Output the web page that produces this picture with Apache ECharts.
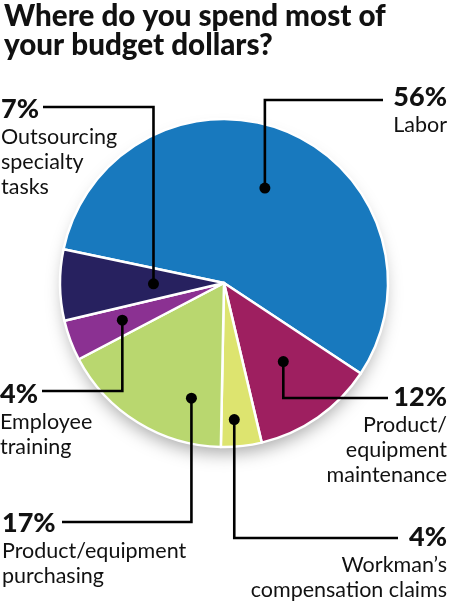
<!DOCTYPE html>
<html>
<head>
<meta charset="utf-8">
<script src="https://cdn.jsdelivr.net/npm/echarts@6/dist/echarts.min.js"></script>
<style>
html,body{margin:0;padding:0;background:#fff;}
#c{width:450px;height:602px;}
</style>
</head>
<body>
<div id="c"></div>
<script>
const titleText = 'Where do you spend most of\nyour budget dollars?';
const categories = ['Labor', 'Product/equipment maintenance', 'Workman\u2019s compensation claims', 'Product/equipment purchasing', 'Employee training', 'Outsourcing specialty tasks'];
const values = [56, 12, 4, 17, 4, 7];
const pctLabels = ['56%', '12%', '4%', '17%', '4%', '7%'];
const descLabels = [
  ['Labor'],
  ['Product/', 'equipment', 'maintenance'],
  ['Workman\u2019s', 'compensation claims'],
  ['Product/equipment', 'purchasing'],
  ['Employee', 'training'],
  ['Outsourcing', 'specialty', 'tasks']
];
const colors = ['#1879BE', '#9E1F60', '#DDE46F', '#B9D76F', '#8B3192', '#27215F'];

// annotation layout: [angle fraction in slice, radius fraction, elbowY, lineEndX, textX, align, pctCenterY]
const annot = [
  [0.503, 0.63, 100, 383, 447, 'right', 97.5],
  [0.45, 0.60, 398, 388, 447, 'right', 397.5],
  [0.625, 0.835, 538, 398, 447, 'right', 537],
  [0.24, 0.73, 522, 62, 2, 'left', 523],
  [0.53, 0.66, 391, 42, 0, 'left', 394.5],
  [0.50, 0.43, 107, 43, 1, 'left', 109]
];

const chart = echarts.init(document.getElementById('c'), null, {renderer: 'canvas'});
chart.setOption({
  animation: false,
  backgroundColor: '#fff',
  title: {
    text: titleText,
    left: -1, top: -3,
    textStyle: {fontFamily: 'Lato', fontWeight: 900, fontSize: 29.6, lineHeight: 29, color: '#111'}
  },
  series: [{
    type: 'pie',
    center: [224, 283],
    radius: 164,
    startAngle: 168.1,
    clockwise: true,
    label: {show: false},
    labelLine: {show: false},
    emphasis: {disabled: true},
    itemStyle: {borderColor: '#fff', borderWidth: 2.5},
    data: categories.map((n, i) => ({name: n, value: values[i], itemStyle: {color: colors[i]}}))
  }]
});

const data = chart.getModel().getSeriesByIndex(0).getData();
const g = [];
let cx0 = 224, cy0 = 283, r0 = 164;
for (let i = 0; i < values.length; i++) {
  const L = data.getItemLayout(i);
  cx0 = L.cx; cy0 = L.cy; r0 = L.r;
  const [af, rf, ey, ex, tx, align, py] = annot[i];
  const a = L.startAngle + (L.endAngle - L.startAngle) * af;
  const dx = L.cx + Math.cos(a) * L.r * rf;
  const dy = L.cy + Math.sin(a) * L.r * rf;
  g.push({type: 'polyline', z: 20, shape: {points: [[dx, dy], [dx, ey], [ex, ey]]},
    style: {stroke: '#000', lineWidth: 2.6, fill: null}});
  g.push({type: 'circle', z: 21, shape: {cx: dx, cy: dy, r: 5.5}, style: {fill: '#000'}});
  g.push({type: 'text', z: 22, x: tx, y: py, style: {text: pctLabels[i], x: 0, y: 0, align: align, verticalAlign: 'middle',
    font: '900 27px "Lato"', fill: '#111'}});
  descLabels[i].forEach((t, k) => {
    g.push({type: 'text', z: 22, x: tx, y: py + 28 + k * 25, style: {text: t, x: 0, y: 0, align: align, verticalAlign: 'middle',
      font: '21.5px "Lato"', fill: '#111'}});
  });
}
g.unshift({type: 'circle', z: 0, shape: {cx: cx0, cy: cy0 - 2, r: r0 - 4},
  style: {fill: '#fff', shadowBlur: 18, shadowOffsetY: 12, shadowColor: 'rgba(0,0,0,0.35)'}});
chart.setOption({graphic: g});
</script>
</body>
</html>
